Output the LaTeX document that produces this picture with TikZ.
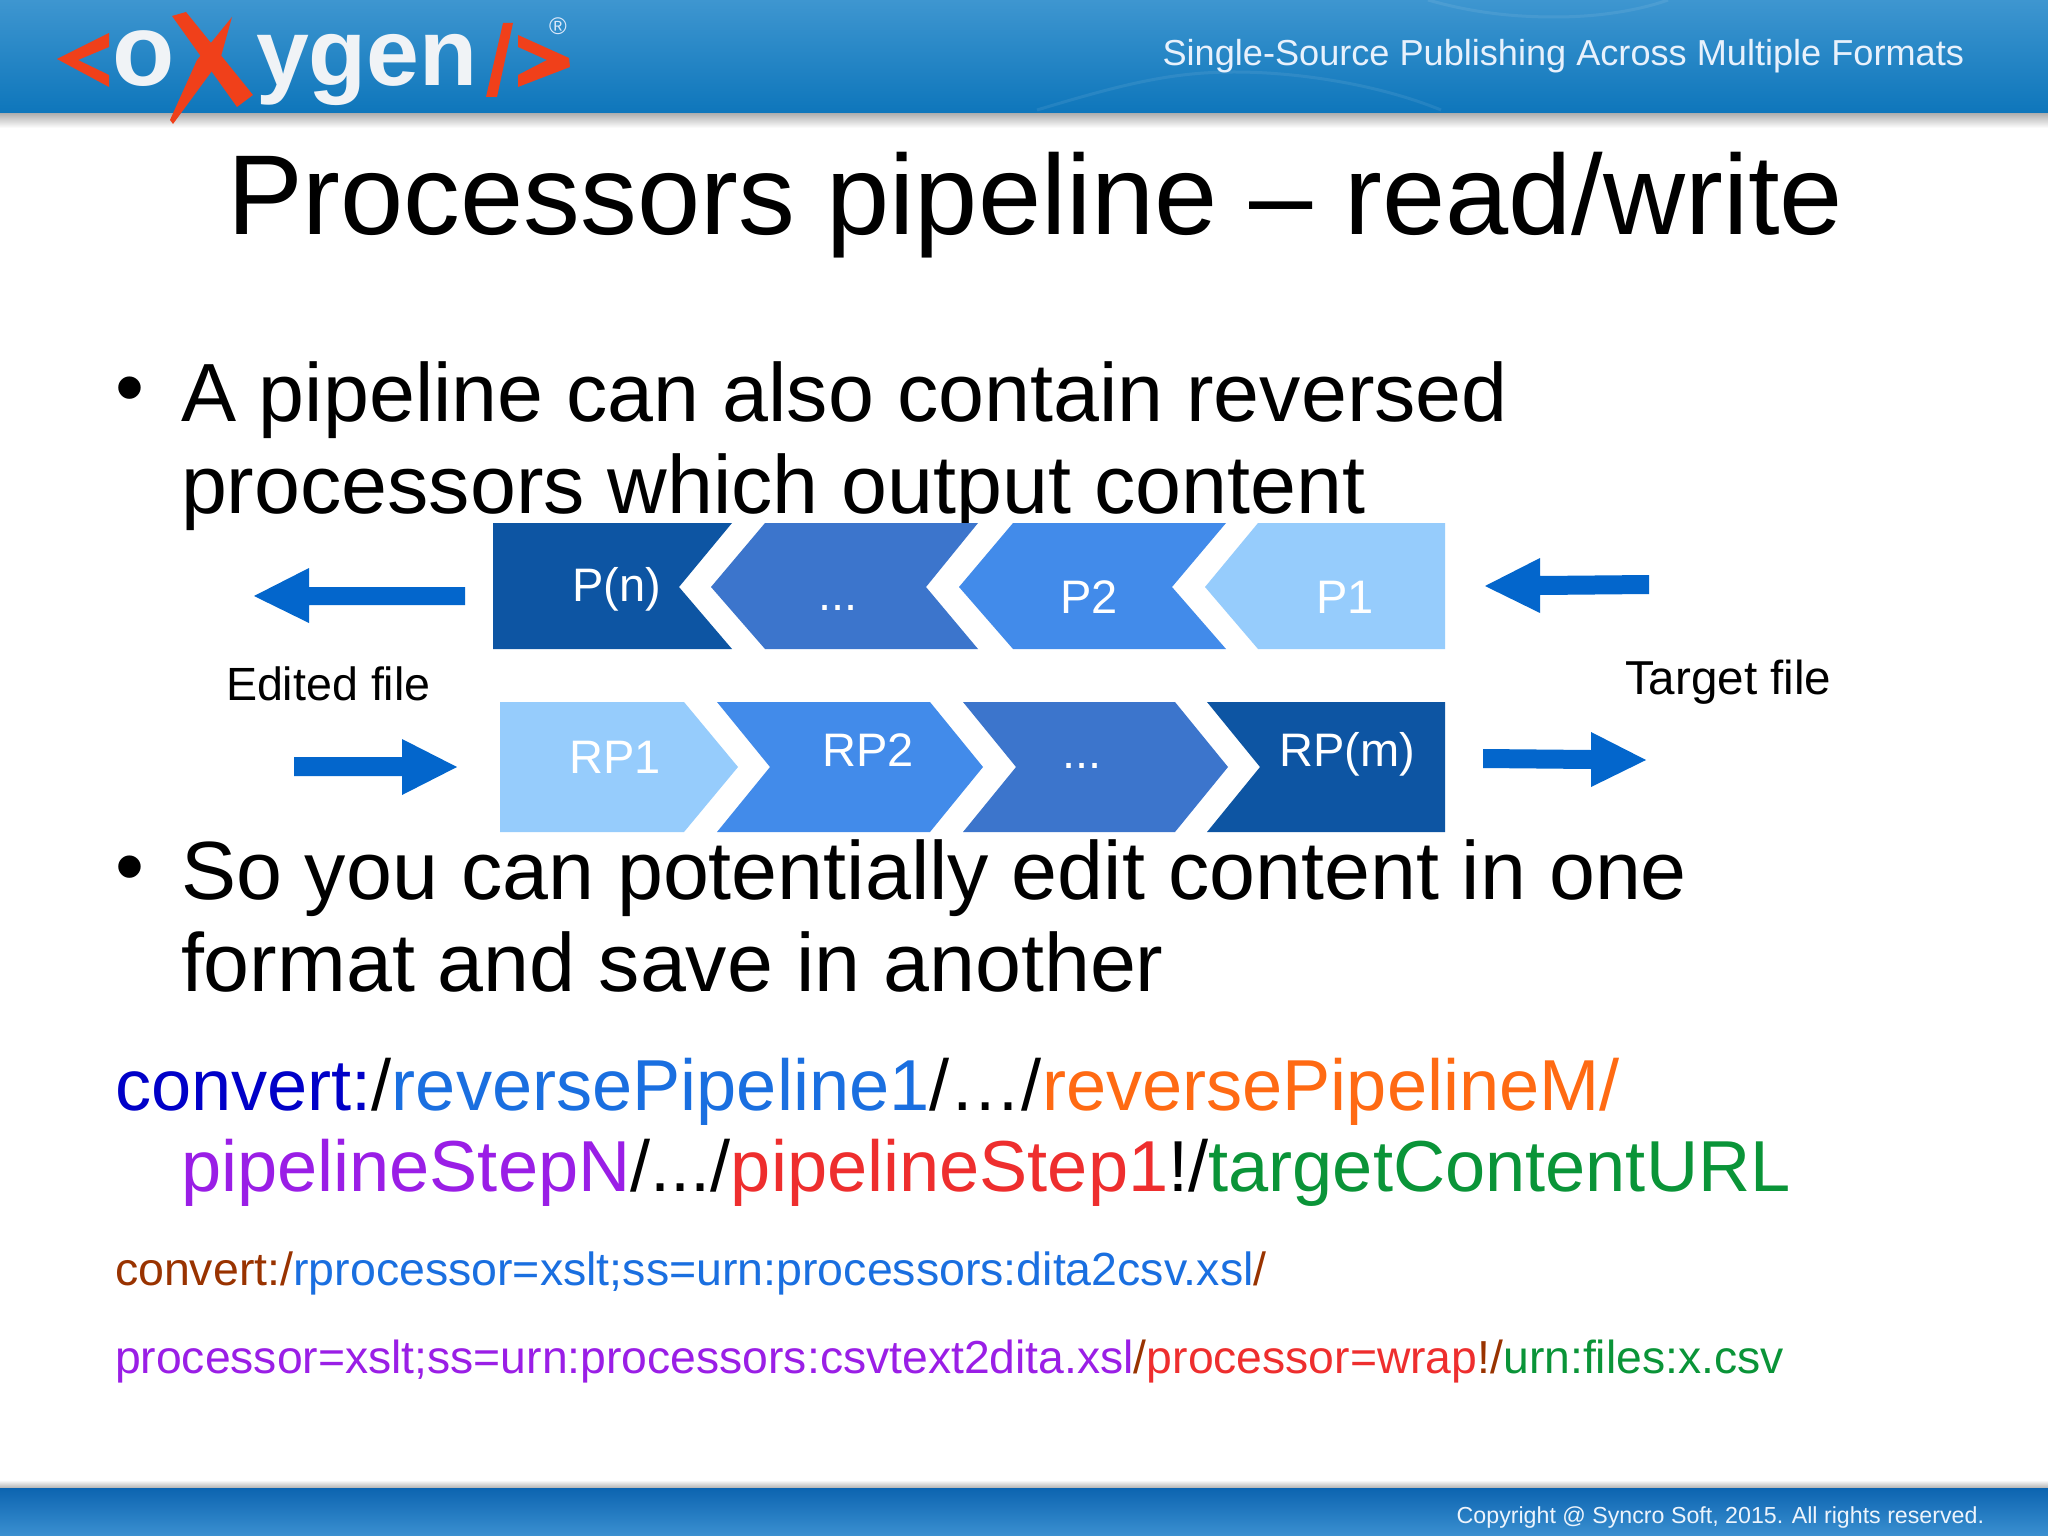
\documentclass[tikz,border=0pt]{standalone}
\usepackage{fontspec}
\setmainfont{Liberation Sans}
\usetikzlibrary{shadings}
\definecolor{cdark}{HTML}{0D55A3}
\definecolor{cmid}{HTML}{3C75CC}
\definecolor{cblue}{HTML}{428BEA}
\definecolor{clight}{HTML}{96CCFC}
\definecolor{carrow}{HTML}{0366CC}
\definecolor{logored}{HTML}{F0401A}
\definecolor{logowhite}{HTML}{F0F3F6}
\definecolor{cA}{HTML}{0000C8}
\definecolor{cB}{HTML}{1A6FE0}
\definecolor{cC}{HTML}{FF6A13}
\definecolor{cD}{HTML}{9A1EE6}
\definecolor{cE}{HTML}{EE2E2E}
\definecolor{cF}{HTML}{0A9438}
\definecolor{cG}{HTML}{993300}
\newcommand{\fpx}[1]{\fontsize{#1}{#1}\selectfont}
\tikzset{
  txt/.style={anchor=base west,inner sep=0pt,outer sep=0pt},
  ctr/.style={anchor=base,inner sep=0pt,outer sep=0pt,text=white,font=\fpx{23.5}},
  arrowshape/.style={fill=carrow,draw=none},
  logopart/.style={fill=logored,draw=none},
  glow/.style={draw=white,opacity=0.08,line width=1.5pt}
}
\begin{document}
\begin{tikzpicture}[x=0.5pt,y=-0.5pt]
\useasboundingbox (0,0) rectangle (2048,1535);
\fill[white] (0,0) rectangle (2048,1535);
% header
\shade[top color=black!32,bottom color=white] (0,113) rectangle (2048,128);
\shade[top color={rgb,255:red,62;green,150;blue,208},bottom color={rgb,255:red,14;green,118;blue,187}] (0,0) rectangle (2048,113);
\draw[glow] (1037,110) .. controls (1120,85) and (1170,72) .. (1234,72) .. controls (1300,72) and (1380,85) .. (1441,110);
\draw[glow] (1428,0) .. controls (1470,12) and (1510,17) .. (1555,17) .. controls (1600,17) and (1640,10) .. (1668,0);
% footer
\shade[top color=white,bottom color=black!30] (0,1480) rectangle (2048,1488);
\shade[top color={rgb,255:red,12;green,100;blue,176},bottom color={rgb,255:red,58;green,143;blue,208}] (0,1488) rectangle (2048,1535);
% logo
\fill[logopart] (57,59)--(109,33)--(109,47)--(78,60)--(109,75)--(109,87)--cycle;
\node[txt,text=logowhite,font=\bfseries\fpx{51}] (lo) at (112,86) {o};
\node[txt,text=logowhite,font=\bfseries\fpx{47.5}] (lygen) at (256,86) {ygen};
\fill[logopart] (172,16)--(186,12)--(253,95)--(237,107)--cycle;
\fill[logopart] (232,17)--(220,60)--(173,124)--(170,120)--(197,60)--cycle;
\fill[logopart] (503,23)--(513,23)--(497,97)--(486,97)--cycle;
\fill[logopart] (518,35)--(569,58)--(570,67)--(518,87)--(518,75)--(547,60)--(518,47)--cycle;
\node[anchor=center,inner sep=0pt,text=white!85!cB,font=\fpx{12}] (lreg) at (558,26) {®};
\node[txt,text=white!90!cB,font=\fpx{18.07},anchor=base east] (head) at (1964,66) {Single-Source Publishing Across Multiple Formats};
\node[txt,text=white!92!cB,font=\fpx{11.6},anchor=base east] (copy) at (1984,1523) {Copyright @ Syncro Soft, 2015. All rights reserved.};
% title
\node[txt,font=\fpx{56.8}] (title) at (227,235) {Processors pipeline – read/write};
% bullets
\node[txt,font=\fpx{41.3}] (b1) at (115,415) {•};
\node[txt,font=\fpx{41.3}] (l1) at (181,421) {A pipeline can also contain reversed};
\node[txt,font=\fpx{41.3}] (l2) at (181,513) {processors which output content};
\node[txt,font=\fpx{41.3}] (b2) at (115,894) {•};
\node[txt,font=\fpx{41.3}] (l3) at (181,899) {So you can potentially edit content in one};
\node[txt,font=\fpx{41.3}] (l4) at (181,991) {format and save in another};
% upper row
\fill[cdark] (493,523)--(732,523)--(679,587)--(732,649)--(493,649)--cycle;
\fill[cmid] (765,523)--(978,523)--(926,587)--(978,649)--(765,649)--(711,587)--cycle;
\fill[cblue] (1013,523)--(1226,523)--(1172,587)--(1226,649)--(1013,649)--(959,587)--cycle;
\fill[clight] (1258,523)--(1445,523)--(1445,649)--(1258,649)--(1205,587)--cycle;
\node[ctr] (pn) at (617,601) {P(n)};
\node[ctr] (pdots) at (838,610) {...};
\node[ctr] (p2) at (1089,613) {P2};
\node[ctr] (p1) at (1345,613) {P1};
% lower row
\fill[clight] (500,702)--(684,702)--(738,767)--(684,832)--(500,832)--cycle;
\fill[cblue] (717,702)--(930,702)--(983,767)--(930,832)--(717,832)--(770,767)--cycle;
\fill[cmid] (963,702)--(1175,702)--(1228,767)--(1175,832)--(963,832)--(1016,767)--cycle;
\fill[cdark] (1207,702)--(1445,702)--(1445,832)--(1207,832)--(1260,767)--cycle;
\node[ctr] (rp1) at (615,773) {RP1};
\node[ctr] (rp2) at (868,766) {RP2};
\node[ctr] (rdots) at (1082,768) {...};
\node[ctr] (rpm) at (1347,766) {RP(m)};
% arrows
\fill[arrowshape] (254,596)--(309,568)--(309,587)--(465,587)--(465,605)--(309,605)--(309,623)--cycle;
\fill[arrowshape] (457,767)--(402,739)--(402,757)--(294,757)--(294,776)--(402,776)--(402,795)--cycle;
\fill[arrowshape] (1485,586)--(1540,558)--(1540,576)--(1649,575)--(1649,594)--(1540,595)--(1540,613)--cycle;
\fill[arrowshape] (1646,760)--(1591,732)--(1591,750)--(1483,749)--(1483,768)--(1591,769)--(1591,787)--cycle;
\node[txt,font=\fpx{23.3}] (edited) at (226,700) {Edited file};
\node[txt,font=\fpx{23.8}] (target) at (1625,694) {Target file};
% url lines
\node[txt,font=\fpx{36.1}] (u1) at (115,1110) {\textcolor{cA}{convert:}/\textcolor{cB}{reversePipeline1}/…/\textcolor{cC}{reversePipelineM/}};
\node[txt,font=\fpx{36.1}] (u2) at (181,1191) {\textcolor{cD}{pipelineStepN}/.../\textcolor{cE}{pipelineStep1}!/\textcolor{cF}{targetContentURL}};
\node[txt,font=\fpx{23.25}] (u3) at (115,1285) {\textcolor{cG}{convert:/}\textcolor{cB}{rprocessor=xslt;ss=urn:processors:dita2csv.xsl}\textcolor{cG}{/}};
\node[txt,font=\fpx{23.15}] (u4) at (115,1373) {\textcolor{cD}{processor=xslt;ss=urn:processors:csvtext2dita.xsl}\textcolor{cG}{/}\textcolor{cE}{processor=wrap}\textcolor{cG}{!/}\textcolor{cF}{urn:files:x.csv}};
\end{tikzpicture}
\end{document}
